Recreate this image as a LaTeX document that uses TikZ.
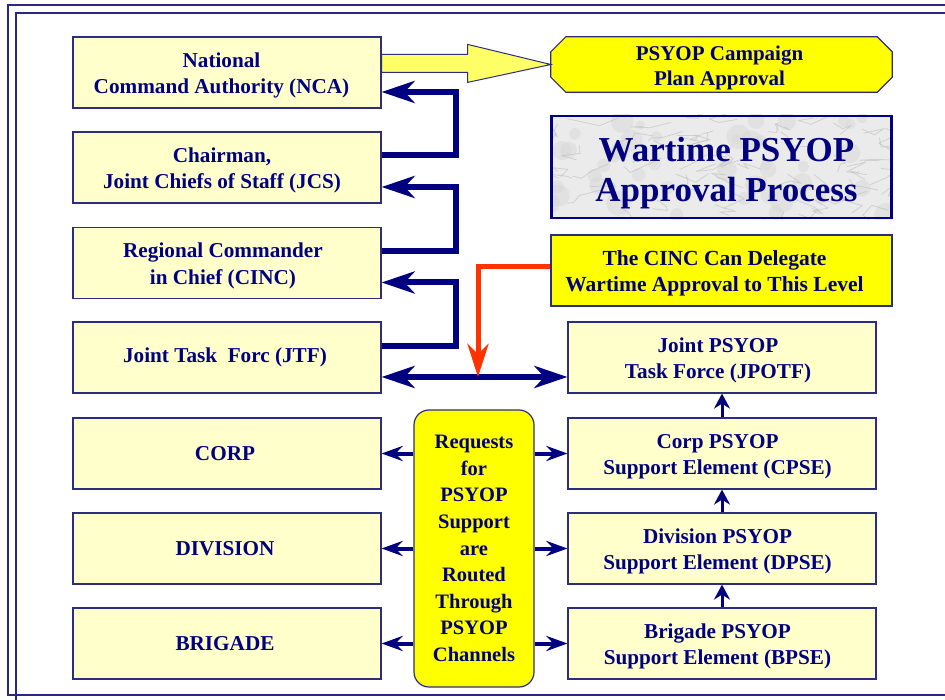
\documentclass[tikz,border=0pt]{standalone}
\usepackage{fontspec}
\setmainfont{Liberation Serif}
\usetikzlibrary{arrows.meta,calc,backgrounds}
\definecolor{navy}{RGB}{0,0,128}
\definecolor{boxline}{RGB}{45,45,125}
\definecolor{framecol}{RGB}{40,40,130}
\definecolor{pale}{RGB}{255,255,204}
\definecolor{brightyellow}{RGB}{255,255,0}
\definecolor{arrowyellow}{RGB}{255,255,102}
\definecolor{signal}{RGB}{255,51,0}
\newcommand\boxfont{\fontsize{21.2}{26.5}\selectfont\bfseries}
\newcommand\headfont{\fontsize{35}{40}\selectfont\bfseries}
% centred text block: #1 trailing space (moves the block sideways),
% #2 height of the first row, #3 the lines
\newcommand\stack[3]{\begin{tabular}{@{}c@{}}\rule{0pt}{#2}#3\end{tabular}\hspace*{#1}}
\newcommand\lowline{\rule{0pt}{21.5pt}}
\begin{document}
\begin{tikzpicture}[x=1pt,y=-1pt,
  frame/.style={draw=framecol,line width=1.5pt},
  lbox/.style={draw=boxline,line width=1.2pt,fill=pale,minimum width=308pt,
    minimum height=71pt,font=\boxfont,text=navy,inner sep=0pt},
  ybox/.style={lbox,fill=brightyellow},
  elbow/.style={draw=navy,line width=6pt,
    -{Stealth[length=33pt,width=22pt,inset=10pt]}},
  twoway/.style={draw=navy,line width=6pt,
    {Stealth[length=33pt,width=22pt,inset=10pt]}-{Stealth[length=33pt,width=22pt,inset=10pt]}},
  delegate/.style={draw=signal,line width=5pt,line cap=butt,
    -{Stealth[length=33pt,width=21pt,inset=10pt]}},
  sidearrow/.style={draw=navy,line width=4pt,
    -{Stealth[length=21pt,width=15pt,inset=7pt]}},
  uparrow/.style={draw=navy,line width=3pt,
    -{Stealth[length=15pt,width=16pt,inset=5pt]}}]
\useasboundingbox (0,0) rectangle (945,700);

% double page frame
\draw[frame] (946,5) -- (8,5) -- (8,695) -- (946,695);
\draw[frame] (946,13) -- (16,13) -- (16,701);

% command chain (left column)
\node[lbox] (nca)  at (227,72.5)  {\stack{11pt}{23.5pt}{National\\Command Authority (NCA)}};
\node[lbox] (jcs)  at (227,167.5) {\stack{10pt}{23.5pt}{Chairman,\\Joint Chiefs of Staff (JCS)}};
\node[lbox] (cinc) at (227,263)   {\stack{8pt}{23.5pt}{Regional Commander\\in Chief (CINC)}};
\node[lbox] (jtf)  at (227,357.5) {Joint Task\ \ Forc (JTF)\hspace*{4pt}};
\node[lbox] (corp) at (227,453.5) {CORP\hspace*{4pt}};
\node[lbox] (div)  at (227,548.5) {DIVISION\hspace*{4pt}};
\node[lbox] (brig) at (227,643.5) {BRIGADE\hspace*{4pt}};

% PSYOP chain (right column)
\node[lbox] (jpotf) at (722,357.5) {\stack{8pt}{23.5pt}{Joint PSYOP\\Task Force (JPOTF)}};
\node[lbox] (cpse)  at (722,453.5) {\stack{9pt}{23.5pt}{Corp PSYOP\\Support Element (CPSE)}};
\node[lbox] (dpse)  at (722,548.5) {\stack{9pt}{23.5pt}{Division PSYOP\\Support Element (DPSE)}};
\node[lbox] (bpse)  at (722,643.5) {\stack{9pt}{23.5pt}{Brigade PSYOP\\Support Element (BPSE)}};

% routing box in the middle
\node[ybox,rounded corners=15pt,minimum width=120pt,minimum height=277pt,align=center,
  font=\fontsize{20.5}{26.6}\selectfont\bfseries] (req) at (474,548.5)
  {Requests\\for\\PSYOP\\Support\\are\\Routed\\Through\\PSYOP\\Channels};

% campaign plan approval (octagon)
\node[minimum width=341pt,minimum height=55pt,align=center,text=navy,
  font=\fontsize{21}{25.5}\selectfont\bfseries,inner sep=0pt] (camp) at (719.5,64.5)
  {\lowline PSYOP Campaign\\Plan Approval};
\begin{scope}[on background layer]
  \filldraw[fill=brightyellow,draw=boxline,line width=1.2pt]
    ($(camp.north west)+(17,0)$) -- ($(camp.north east)+(-13,0)$)
    -- ($(camp.north east)+(2,15)$) -- ($(camp.south east)+(2,-15)$)
    -- ($(camp.south east)+(-13,0)$) -- ($(camp.south west)+(17,0)$)
    -- ($(camp.south west)+(2,-15)$) -- ($(camp.north west)+(2,15)$) -- cycle;
\end{scope}

% title panel on a marbled ground
\node[draw=navy,line width=2.2pt,minimum width=340pt,minimum height=102pt,
  text=navy,font=\headfont,inner sep=0pt] (title) at (721.5,167)
  {\stack{-10pt}{41.4pt}{Wartime PSYOP\\Approval Process}};
\begin{scope}[on background layer]
  \clip (title.north west) rectangle (title.south east);
  \fill[gray!16] (title.north west) rectangle (title.south east);
  \pgfmathsetseed{11}
  \foreach \k in {1,...,45} {
    \pgfmathsetmacro\bx{552+340*rnd}
    \pgfmathsetmacro\by{117+101*rnd}
    \pgfmathsetmacro\br{4+9*rnd}
    \fill[gray!30,opacity=0.5] (\bx,\by) circle (\br);
  }
  \foreach \k in {1,...,60} {
    \pgfmathsetmacro\vx{552+340*rnd}
    \pgfmathsetmacro\vy{117+101*rnd}
    \draw[gray!50,line width=0.8pt,opacity=0.6,line join=round] (\vx,\vy)
      -- ++({22*rand},{10*rand}) -- ++({22*rand},{10*rand})
      -- ++({22*rand},{10*rand});
  }
\end{scope}

% delegation note
\node[ybox,minimum width=341pt,minimum height=71pt,
  font=\fontsize{21.5}{26.5}\selectfont\bfseries] (deleg) at (721.5,270.5)
  {\stack{14pt}{23.5pt}{The CINC Can Delegate\\Wartime Approval to This Level}};

% block arrow: NCA to campaign plan approval
\coordinate (shaft) at ($(nca.north east)+(0,18)$);
\coordinate (tip) at ($(camp.west)+(2,0)$);
\filldraw[fill=arrowyellow,draw=boxline,line width=1pt]
  (shaft) -- ($(shaft)+(86,0)$) -- ($(shaft)+(86,-10)$) -- (tip)
  -- ($(shaft)+(86,28)$) -- ($(shaft)+(86,18)$) -- ($(shaft)+(0,18)$) -- cycle;

% approval chain: each level reports up to the next
\coordinate (ncain)  at ($(nca.north east)!0.77!(nca.south east)$);
\coordinate (jcsout) at ($(jcs.north east)!0.33!(jcs.south east)$);
\coordinate (jcsin)  at ($(jcs.north east)!0.77!(jcs.south east)$);
\coordinate (cincout) at ($(cinc.north east)!0.34!(cinc.south east)$);
\coordinate (cincin)  at ($(cinc.north east)!0.77!(cinc.south east)$);
\coordinate (jtfout) at ($(jtf.north east)!0.34!(jtf.south east)$);
\coordinate (jtfin)  at ($(jtf.north east)!0.77!(jtf.south east)$);
\coordinate (jpin)   at ($(jpotf.north west)!0.77!(jpotf.south west)$);
\draw[elbow] (jcsout) -- ++(74,0) |- (ncain);
\draw[elbow] (cincout) -- ++(74,0) |- (jcsin);
\draw[elbow] (jtfout) -- ++(74,0) |- (cincin);
\draw[twoway] (jtfin) -- (jpin);

% delegation arrow
\coordinate (delout) at ($(deleg.north west)!0.44!(deleg.south west)$);
\coordinate (dropx) at (478,0);
\draw[delegate] (delout) -- (delout -| dropx) -- (dropx |- jtfin);

% routing arrows from the middle box
\foreach \t in {corp,div,brig} \draw[sidearrow] (req.west |- \t.east) -- (\t.east);
\foreach \t in {cpse,dpse,bpse} \draw[sidearrow] (req.east |- \t.west) -- (\t.west);

% PSYOP support chain upward
\draw[uparrow] (cpse.north) -- (jpotf.south);
\draw[uparrow] (dpse.north) -- (cpse.south);
\draw[uparrow] (bpse.north) -- (dpse.south);
\end{tikzpicture}
\end{document}
